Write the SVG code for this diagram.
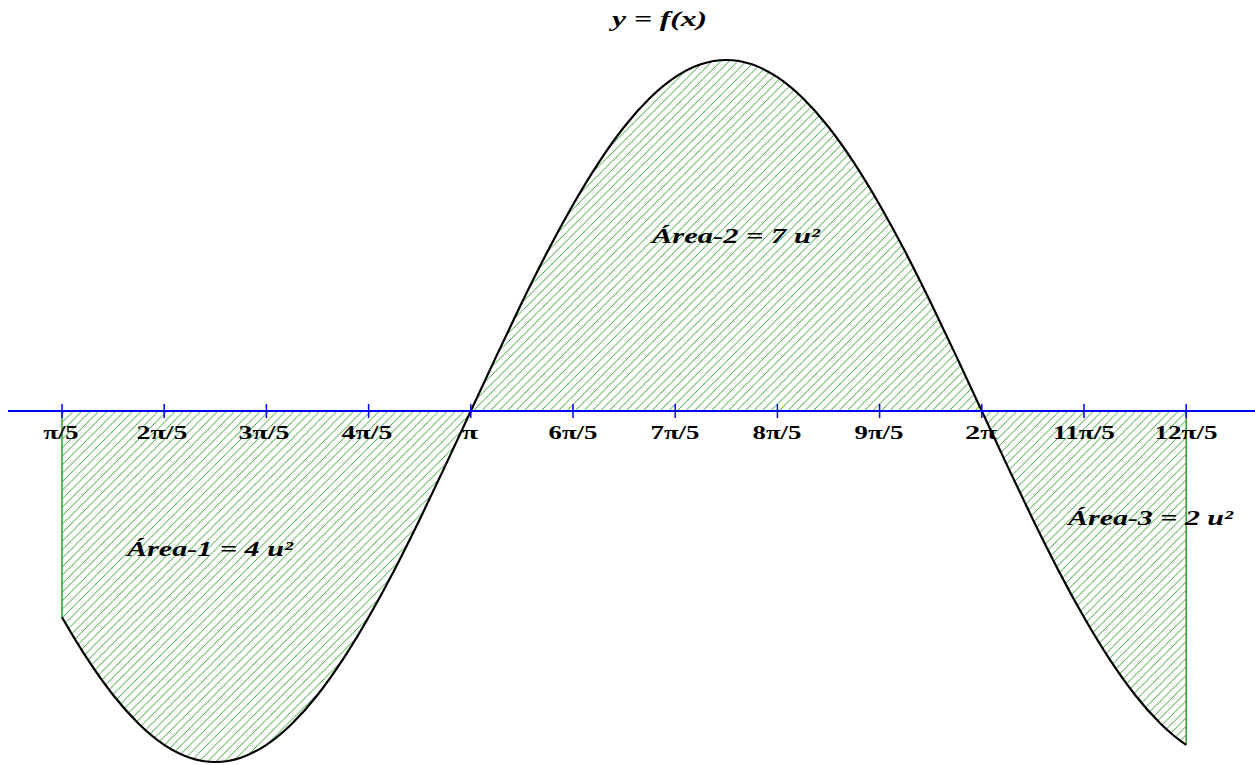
<svg xmlns="http://www.w3.org/2000/svg" width="1255" height="765" viewBox="0 0 1255 765">
<defs>
<pattern id="hatch" patternUnits="userSpaceOnUse" width="8.5" height="8.5">
<path d="M-2,2 L2,-2 M0,8.5 L8.5,0 M6.5,10.5 L10.5,6.5" stroke="#2c9c2c" stroke-width="1" fill="none" shape-rendering="crispEdges"/>
</pattern>
<style>
.tick{stroke:#0000ff;stroke-width:1.5}
.lbl{font-family:"Liberation Serif",serif;font-weight:bold;font-size:19px;fill:#000;text-anchor:middle}
.area{font-family:"Liberation Serif",serif;font-weight:bold;font-style:italic;font-size:22px;fill:#000}
</style>
</defs>
<rect width="1255" height="765" fill="#fff"/>
<g id="region">
<path fill="url(#hatch)" d="M62,411 L62,617.3 C70.52,632.17 79.03,646.2 87.55,659.2 S104.58,684.2 113.1,695 S130.13,715.36 138.65,723.7 S155.68,739.12 164.2,744.8 S181.23,754.83 189.75,757.7 S206.78,762 215.3,762 S232.33,760.57 240.85,757.7 S257.88,750.48 266.4,744.8 S283.43,732.04 291.95,723.7 S308.98,705.8 317.5,695 S334.53,672.2 343.05,659.2 S360.08,632.17 368.6,617.3 S385.63,586.78 394.15,570.4 S411.18,536.98 419.7,519.5 S436.73,484.05 445.25,465.9 S462.28,429.38 470.8,411 S487.83,374.25 496.35,356.1 S513.38,319.98 521.9,302.5 S538.93,267.98 547.45,251.6 S564.48,219.57 573,204.7 S590.03,175.8 598.55,162.8 S615.58,137.8 624.1,127 S641.13,106.64 649.65,98.3 S666.68,82.88 675.2,77.2 S692.23,67.17 700.75,64.3 S717.78,60 726.3,60 S743.33,61.43 751.85,64.3 S768.88,71.52 777.4,77.2 S794.43,89.96 802.95,98.3 S819.98,116.2 828.5,127 S845.53,149.8 854.05,162.8 S871.08,189.83 879.6,204.7 S896.63,235.22 905.15,251.6 S922.18,285.02 930.7,302.5 S947.73,337.95 956.25,356.1 S973.28,392.62 981.8,411 S998.83,447.75 1007.35,465.9 S1024.38,502.02 1032.9,519.5 S1049.93,554.02 1058.45,570.4 S1075.48,602.43 1084,617.3 S1101.03,646.2 1109.55,659.2 S1126.58,684.2 1135.1,695 S1152.13,715.36 1160.65,723.7 S1177.68,739.12 1186.2,744.8 L1186.2,411 Z"/>
<line x1="62" y1="411" x2="62" y2="618" stroke="#2c9c2c" stroke-width="1.5"/>
<line x1="1186.2" y1="411" x2="1186.2" y2="745" stroke="#2c9c2c" stroke-width="1.5"/>
</g>
<g id="curve">
<path fill="none" stroke="#000" stroke-width="2.2" d="M62,617.3 C70.52,632.17 79.03,646.2 87.55,659.2 S104.58,684.2 113.1,695 S130.13,715.36 138.65,723.7 S155.68,739.12 164.2,744.8 S181.23,754.83 189.75,757.7 S206.78,762 215.3,762 S232.33,760.57 240.85,757.7 S257.88,750.48 266.4,744.8 S283.43,732.04 291.95,723.7 S308.98,705.8 317.5,695 S334.53,672.2 343.05,659.2 S360.08,632.17 368.6,617.3 S385.63,586.78 394.15,570.4 S411.18,536.98 419.7,519.5 S436.73,484.05 445.25,465.9 S462.28,429.38 470.8,411 S487.83,374.25 496.35,356.1 S513.38,319.98 521.9,302.5 S538.93,267.98 547.45,251.6 S564.48,219.57 573,204.7 S590.03,175.8 598.55,162.8 S615.58,137.8 624.1,127 S641.13,106.64 649.65,98.3 S666.68,82.88 675.2,77.2 S692.23,67.17 700.75,64.3 S717.78,60 726.3,60 S743.33,61.43 751.85,64.3 S768.88,71.52 777.4,77.2 S794.43,89.96 802.95,98.3 S819.98,116.2 828.5,127 S845.53,149.8 854.05,162.8 S871.08,189.83 879.6,204.7 S896.63,235.22 905.15,251.6 S922.18,285.02 930.7,302.5 S947.73,337.95 956.25,356.1 S973.28,392.62 981.8,411 S998.83,447.75 1007.35,465.9 S1024.38,502.02 1032.9,519.5 S1049.93,554.02 1058.45,570.4 S1075.48,602.43 1084,617.3 S1101.03,646.2 1109.55,659.2 S1126.58,684.2 1135.1,695 S1152.13,715.36 1160.65,723.7 S1177.68,739.12 1186.2,744.8"/>
</g>
<g id="axis">
<line x1="8" y1="411" x2="1255" y2="411" stroke="#0000ff" stroke-width="2"/>
<line class="tick" x1="62" y1="404" x2="62" y2="418"/>
<line class="tick" x1="164.2" y1="404" x2="164.2" y2="418"/>
<line class="tick" x1="266.4" y1="404" x2="266.4" y2="418"/>
<line class="tick" x1="368.6" y1="404" x2="368.6" y2="418"/>
<line class="tick" x1="470.8" y1="404" x2="470.8" y2="418"/>
<line class="tick" x1="573" y1="404" x2="573" y2="418"/>
<line class="tick" x1="675.2" y1="404" x2="675.2" y2="418"/>
<line class="tick" x1="777.4" y1="404" x2="777.4" y2="418"/>
<line class="tick" x1="879.6" y1="404" x2="879.6" y2="418"/>
<line class="tick" x1="981.8" y1="404" x2="981.8" y2="418"/>
<line class="tick" x1="1084" y1="404" x2="1084" y2="418"/>
<line class="tick" x1="1186.2" y1="404" x2="1186.2" y2="418"/>
</g>
<g id="tick-labels">
<text class="lbl" x="61" y="439" textLength="35" lengthAdjust="spacingAndGlyphs">π/5</text>
<text class="lbl" x="162" y="439" textLength="51" lengthAdjust="spacingAndGlyphs">2π/5</text>
<text class="lbl" x="264" y="439" textLength="51" lengthAdjust="spacingAndGlyphs">3π/5</text>
<text class="lbl" x="367" y="439" textLength="51" lengthAdjust="spacingAndGlyphs">4π/5</text>
<text class="lbl" x="470" y="439" textLength="16" lengthAdjust="spacingAndGlyphs">π</text>
<text class="lbl" x="573" y="439" textLength="49" lengthAdjust="spacingAndGlyphs">6π/5</text>
<text class="lbl" x="675" y="439" textLength="49" lengthAdjust="spacingAndGlyphs">7π/5</text>
<text class="lbl" x="777" y="439" textLength="49" lengthAdjust="spacingAndGlyphs">8π/5</text>
<text class="lbl" x="879" y="439" textLength="49" lengthAdjust="spacingAndGlyphs">9π/5</text>
<text class="lbl" x="981" y="439" textLength="32" lengthAdjust="spacingAndGlyphs">2π</text>
<text class="lbl" x="1084" y="439" textLength="62" lengthAdjust="spacingAndGlyphs">11π/5</text>
<text class="lbl" x="1186" y="439" textLength="63" lengthAdjust="spacingAndGlyphs">12π/5</text>
</g>
<g id="labels">
<text class="area" x="612" y="26" textLength="95" lengthAdjust="spacingAndGlyphs">y = f(x)</text>
<text class="area" x="127" y="556" textLength="166" lengthAdjust="spacingAndGlyphs">Área-1 = 4 u²</text>
<text class="area" x="652" y="243" textLength="168" lengthAdjust="spacingAndGlyphs">Área-2 = 7 u²</text>
<text class="area" x="1068" y="525" textLength="165" lengthAdjust="spacingAndGlyphs">Área-3 = 2 u²</text>
</g>
</svg>
